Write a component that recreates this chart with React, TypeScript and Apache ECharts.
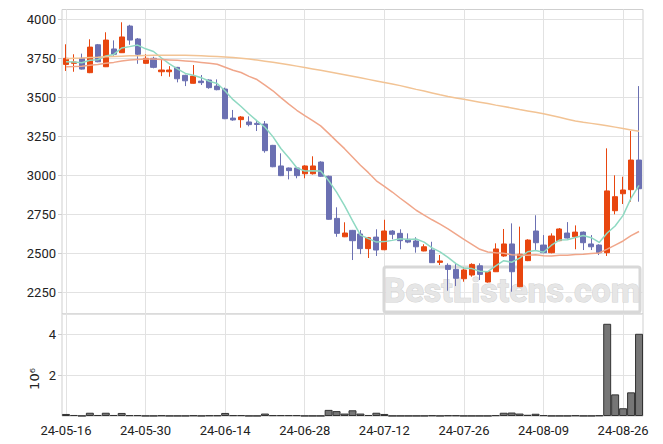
import React, { useEffect, useRef } from "react";
import * as echarts from "echarts";

const dates = [
  "24-05-16", "24-05-17", "24-05-20", "24-05-21", "24-05-22", "24-05-23", "24-05-24", "24-05-27", "24-05-28", "24-05-29",
  "24-05-30", "24-05-31", "24-06-03", "24-06-04", "24-06-05", "24-06-07", "24-06-10", "24-06-11", "24-06-12", "24-06-13",
  "24-06-14", "24-06-17", "24-06-18", "24-06-19", "24-06-20", "24-06-21", "24-06-24", "24-06-25", "24-06-26", "24-06-27",
  "24-06-28", "24-07-01", "24-07-02", "24-07-03", "24-07-04", "24-07-05", "24-07-08", "24-07-09", "24-07-10", "24-07-11",
  "24-07-12", "24-07-15", "24-07-16", "24-07-17", "24-07-18", "24-07-19", "24-07-22", "24-07-23", "24-07-24", "24-07-25",
  "24-07-26", "24-07-29", "24-07-30", "24-07-31", "24-08-01", "24-08-02", "24-08-05", "24-08-06", "24-08-07", "24-08-08",
  "24-08-09", "24-08-12", "24-08-13", "24-08-14", "24-08-16", "24-08-19", "24-08-20", "24-08-21", "24-08-22", "24-08-23",
  "24-08-26", "24-08-27", "24-08-28",
];

const opens = [
  3711, 3718, 3750, 3658, 3837, 3696, 3810, 3786, 3957, 3874,
  3718, 3750, 3664, 3664, 3692, 3641, 3590, 3604, 3611, 3572,
  3553, 3367, 3357, 3342, 3333, 3329, 3192, 3060, 3047, 3047,
  3010, 3010, 3085, 2994, 2724, 2606, 2647, 2624, 2530, 2604,
  2523, 2643, 2628, 2590, 2579, 2515, 2521, 2442, 2423, 2397,
  2337, 2361, 2420, 2316, 2382, 2483, 2560, 2286, 2453, 2643,
  2553, 2504, 2581, 2630, 2606, 2636, 2560, 2553, 2504, 2773,
  2882, 2908, 3098,
];
const closes = [
  3750, 3726, 3681, 3822, 3728, 3867, 3776, 3887, 3867, 3776,
  3750, 3692, 3675, 3675, 3619, 3606, 3636, 3594, 3562, 3549,
  3363, 3355, 3374, 3325, 3326, 3158, 3055, 2998, 3030, 2998,
  3060, 3060, 2994, 2718, 2628, 2630, 2581, 2530, 2600, 2521,
  2643, 2622, 2581, 2572, 2542, 2542, 2440, 2451, 2397, 2340,
  2393, 2429, 2365, 2382, 2528, 2560, 2382, 2494, 2585, 2568,
  2504, 2611, 2656, 2598, 2636, 2568, 2542, 2504, 2900, 2863,
  2906, 3098, 2914,
];
const lows = [
  3669, 3664, 3678, 3655, 3725, 3694, 3767, 3784, 3837, 3715,
  3715, 3686, 3636, 3632, 3596, 3572, 3588, 3579, 3555, 3545,
  3360, 3350, 3305, 3314, 3284, 3145, 3052, 2995, 2974, 2981,
  2981, 3005, 2990, 2715, 2606, 2604, 2457, 2495, 2470, 2483,
  2520, 2590, 2526, 2565, 2504, 2513, 2438, 2425, 2260, 2290,
  2318, 2350, 2329, 2312, 2380, 2478, 2254, 2283, 2450, 2521,
  2500, 2500, 2578, 2595, 2526, 2521, 2521, 2489, 2483, 2750,
  2816, 2831, 2831,
];
const highs = [
  3840, 3776, 3780, 3872, 3842, 3917, 3865, 3981, 3965, 3880,
  3776, 3760, 3739, 3700, 3695, 3645, 3707, 3643, 3615, 3615,
  3562, 3419, 3380, 3378, 3355, 3348, 3195, 3141, 3050, 3050,
  3065, 3122, 3090, 2998, 2795, 2699, 2650, 2649, 2605, 2654,
  2715, 2649, 2654, 2628, 2603, 2558, 2574, 2489, 2436, 2431,
  2410, 2436, 2436, 2385, 2564, 2656, 2692, 2671, 2590, 2744,
  2617, 2628, 2662, 2700, 2679, 2640, 2617, 2558, 3173, 3000,
  2991, 3284, 3572,
];

// volume in units of 10^6
const volumes = [
  0.10, 0.05, 0.01, 0.16, 0.05, 0.16, 0.05, 0.15, 0.04, 0.04,
  0.01, 0.01, 0.03, 0.01, 0.01, 0.01, 0.03, 0.01, 0.03, 0.03,
  0.15, 0.04, 0.04, 0.01, 0.01, 0.12, 0.04, 0.04, 0.04, 0.04,
  0.01, 0.01, 0.01, 0.30, 0.24, 0.12, 0.28, 0.12, 0.05, 0.16,
  0.10, 0.01, 0.01, 0.01, 0.01, 0.01, 0.03, 0.01, 0.03, 0.03,
  0.01, 0.01, 0.01, 0.01, 0.04, 0.16, 0.17, 0.12, 0.06, 0.11,
  0.04, 0.01, 0.01, 0.01, 0.03, 0.01, 0.01, 0.03, 4.52, 1.06,
  0.38, 1.16, 4.03,
];

const ma5 = [
  3728, 3727, 3722, 3738, 3741, 3765, 3775, 3816, 3825, 3835,
  3811, 3794, 3752, 3714, 3682, 3653, 3642, 3626, 3603, 3589,
  3541, 3485, 3441, 3393, 3349, 3308, 3248, 3172, 3113, 3048,
  3028, 3029, 3028, 2966, 2892, 2806, 2710, 2617, 2594, 2572,
  2575, 2583, 2593, 2588, 2592, 2572, 2535, 2509, 2474, 2434,
  2404, 2402, 2385, 2382, 2419, 2453, 2443, 2469, 2510, 2518,
  2507, 2552, 2585, 2587, 2601, 2614, 2600, 2570, 2630, 2675,
  2743, 2854, 2936,
];
const ma20 = [
  3696, 3697, 3699, 3706, 3710, 3718, 3724, 3733, 3740, 3743,
  3745, 3745, 3743, 3740, 3737, 3733, 3729, 3724, 3718, 3712,
  3693, 3674, 3659, 3634, 3614, 3578, 3542, 3498, 3456, 3417,
  3383, 3351, 3317, 3269, 3219, 3171, 3118, 3065, 3017, 2965,
  2929, 2893, 2853, 2815, 2776, 2745, 2715, 2687, 2656, 2623,
  2589, 2558, 2526, 2509, 2504, 2501, 2491, 2489, 2488, 2491,
  2484, 2483, 2487, 2488, 2493, 2494, 2499, 2502, 2527, 2553,
  2579, 2613, 2640,
];
const ma120 = [
  3748, 3750, 3752, 3755, 3757, 3760, 3762, 3764, 3766, 3767,
  3768, 3769, 3770, 3770, 3770, 3769, 3768, 3766, 3764, 3762,
  3759, 3755, 3750, 3745, 3739, 3732, 3725, 3717, 3709, 3700,
  3691, 3682, 3673, 3664, 3655, 3645, 3635, 3625, 3615, 3605,
  3595, 3585, 3575, 3563, 3551, 3540, 3528, 3516, 3505, 3496,
  3487, 3478, 3469, 3460, 3450, 3441, 3432, 3422, 3413, 3404,
  3395, 3384, 3372, 3360, 3348, 3340, 3333, 3326, 3318, 3309,
  3300, 3291, 3282,
];

const priceTicks = [2250, 2500, 2750, 3000, 3250, 3500, 3750, 4000];

const UP = "#e8460f";
const DOWN = "#6b70b2";
const GRID = "#e2e2e2";
const FRAME = "#cfcfcf";
const TEXT = "#222222";
const FONT = "Roboto";

export default function App() {
  const ref = useRef<HTMLDivElement | null>(null);

  useEffect(() => {
    if (!ref.current) return;
    const chart = echarts.init(ref.current, null, { renderer: "svg" });
    const candleData = opens.map((o, i) => [o, closes[i], lows[i], highs[i]]);
    const plain = (v: number) => String(v);

    const option: any = {
      animation: false,
      backgroundColor: "#ffffff",
      textStyle: { fontFamily: FONT },
      grid: [
        { left: 62, right: 20, top: 9.5, height: 304.5, show: true, borderColor: FRAME, borderWidth: 1, backgroundColor: "transparent" },
        { left: 62, right: 20, top: 314, height: 102, show: true, borderColor: FRAME, borderWidth: 1, backgroundColor: "transparent" },
      ],
      xAxis: [
        {
          type: "category",
          gridIndex: 0,
          data: dates,
          boundaryGap: true,
          axisLine: { show: false },
          axisTick: { show: false },
          axisLabel: { show: false },
          splitLine: { show: true, interval: 9, alignWithLabel: true, lineStyle: { color: GRID, width: 1 } },
        },
        {
          type: "category",
          gridIndex: 1,
          data: dates,
          boundaryGap: true,
          axisLine: { show: false },
          axisTick: { show: false },
          axisLabel: { interval: 9, color: TEXT, fontSize: 13, fontFamily: FONT, margin: 8 },
          splitLine: { show: true, interval: 9, alignWithLabel: true, lineStyle: { color: GRID, width: 1 } },
        },
      ],
      yAxis: [
        {
          type: "value",
          gridIndex: 0,
          min: 2111,
          max: 4063,
          axisLine: { show: false },
          axisTick: { show: true, length: 4, lineStyle: { color: FRAME }, customValues: priceTicks },
          axisLabel: { customValues: priceTicks, formatter: plain, color: TEXT, fontSize: 13, fontFamily: FONT, margin: 6 },
          splitLine: { show: true, lineStyle: { color: GRID, width: 1 } },
        },
        {
          type: "value",
          gridIndex: 1,
          min: 0,
          max: 5,
          interval: 2,
          axisLine: { show: false },
          axisTick: { show: true, length: 4, lineStyle: { color: FRAME } },
          axisLabel: { formatter: plain, color: TEXT, fontSize: 13, fontFamily: FONT, margin: 6, showMinLabel: false, showMaxLabel: false },
          splitLine: { show: true, lineStyle: { color: GRID, width: 1 } },
        },
      ],
      graphic: [
        {
          type: "rect",
          z: 1,
          shape: { x: 384, y: 267, width: 256, height: 45, r: 2 },
          style: { fill: "rgba(255,255,255,0.25)", stroke: "#d8d8d8", lineWidth: 3 },
        },
        {
          type: "text",
          z: 1,
          x: 512,
          y: 290,
          style: {
            text: "BestListens.com",
            fontSize: 34,
            fontWeight: "bold",
            fontFamily: FONT,
            fill: "#e6e6e6",
            stroke: "#d2d2d2",
            lineWidth: 1,
            align: "center",
            verticalAlign: "middle",
            textAlign: "center",
            textVerticalAlign: "middle",
          },
        },
        {
          type: "text",
          x: 34,
          y: 379,
          rotation: Math.PI / 2,
          style: {
            text: "10⁶",
            fontSize: 13,
            fontFamily: "DejaVu Sans",
            fill: TEXT,
            align: "center",
            verticalAlign: "middle",
            textAlign: "center",
            textVerticalAlign: "middle",
          },
        },
      ],
      series: [
        {
          name: "price",
          type: "candlestick",
          xAxisIndex: 0,
          yAxisIndex: 0,
          data: candleData,
          barWidth: "70%",
          z: 3,
          itemStyle: { color: UP, color0: DOWN, borderColor: UP, borderColor0: DOWN, borderWidth: 1 },
        },
        {
          name: "MA5",
          type: "line",
          xAxisIndex: 0,
          yAxisIndex: 0,
          data: ma5,
          symbol: "none",
          z: 4,
          lineStyle: { color: "#8fd9c2", width: 1.5 },
        },
        {
          name: "MA20",
          type: "line",
          xAxisIndex: 0,
          yAxisIndex: 0,
          data: ma20,
          symbol: "none",
          z: 4,
          lineStyle: { color: "#f0a68a", width: 1.5 },
        },
        {
          name: "MA120",
          type: "line",
          xAxisIndex: 0,
          yAxisIndex: 0,
          data: ma120,
          symbol: "none",
          z: 4,
          lineStyle: { color: "#f2c394", width: 1.5 },
        },
        {
          name: "volume",
          type: "bar",
          xAxisIndex: 1,
          yAxisIndex: 1,
          data: volumes,
          barWidth: "100%",
          itemStyle: { color: "#767676", borderColor: "#333333", borderWidth: 1 },
        },
      ],
    };
    chart.setOption(option);
    return () => chart.dispose();
  }, []);

  return (
    <div
      ref={ref}
      style={{ position: "absolute", left: 0, top: 0, width: 663, height: 444, background: "#fff" }}
    />
  );
}
